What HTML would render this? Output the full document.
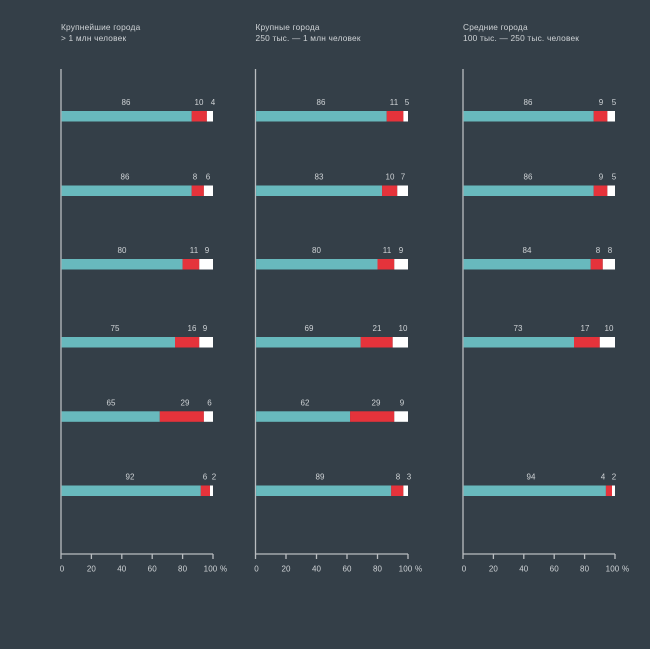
<!DOCTYPE html>
<html><head><meta charset="utf-8"><style>
html,body{margin:0;padding:0;background:#343f48;}
svg{display:block;}
text{font-family:"Liberation Sans","Noto Sans CJK SC",sans-serif;fill:#cfd3d6;font-size:8px;letter-spacing:0.1px;}
.t{font-size:8.3px;letter-spacing:0.2px;}
</style></head><body>
<svg width="650" height="649" viewBox="0 0 650 649" xmlns="http://www.w3.org/2000/svg">
<rect width="650" height="649" fill="#343f48"/>
<!-- titles -->
<text class="t" x="61" y="30">Крупнейшие города</text>
<text class="t" x="61" y="41">&gt; 1 млн человек</text>
<text class="t" x="255.5" y="30">Крупные города</text>
<text class="t" x="255.5" y="41">250 тыс. — 1 млн человек</text>
<text class="t" x="463" y="30">Средние города</text>
<text class="t" x="463" y="41">100 тыс. — 250 тыс. человек</text>

<g stroke="#b9bdc0" stroke-width="1.3" fill="none">
<!-- panel1 axes -->
<line x1="61" y1="69" x2="61" y2="559"/>
<line x1="61" y1="554" x2="213" y2="554"/>
<line x1="91.4" y1="554" x2="91.4" y2="559"/><line x1="121.8" y1="554" x2="121.8" y2="559"/><line x1="152.2" y1="554" x2="152.2" y2="559"/><line x1="182.6" y1="554" x2="182.6" y2="559"/><line x1="213" y1="554" x2="213" y2="559"/>
<!-- panel2 -->
<line x1="255.5" y1="69" x2="255.5" y2="559"/>
<line x1="255.5" y1="554" x2="408" y2="554"/>
<line x1="286" y1="554" x2="286" y2="559"/><line x1="316.5" y1="554" x2="316.5" y2="559"/><line x1="347" y1="554" x2="347" y2="559"/><line x1="377.5" y1="554" x2="377.5" y2="559"/><line x1="408" y1="554" x2="408" y2="559"/>
<!-- panel3 -->
<line x1="463" y1="69" x2="463" y2="559"/>
<line x1="463" y1="554" x2="615" y2="554"/>
<line x1="493.4" y1="554" x2="493.4" y2="559"/><line x1="523.8" y1="554" x2="523.8" y2="559"/><line x1="554.2" y1="554" x2="554.2" y2="559"/><line x1="584.6" y1="554" x2="584.6" y2="559"/><line x1="615" y1="554" x2="615" y2="559"/>
</g>

<!-- tick labels -->
<g text-anchor="middle">
<text x="62" y="571.5">0</text><text x="91.4" y="571.5">20</text><text x="121.8" y="571.5">40</text><text x="152.2" y="571.5">60</text><text x="182.6" y="571.5">80</text><text x="210.5" y="571.5">100</text>
<text x="256.5" y="571.5">0</text><text x="286" y="571.5">20</text><text x="316.5" y="571.5">40</text><text x="347" y="571.5">60</text><text x="377.5" y="571.5">80</text><text x="405.5" y="571.5">100</text>
<text x="464" y="571.5">0</text><text x="493.4" y="571.5">20</text><text x="523.8" y="571.5">40</text><text x="554.2" y="571.5">60</text><text x="584.6" y="571.5">80</text><text x="612.5" y="571.5">100</text>
</g>
<text x="220" y="571.5">%</text>
<text x="415" y="571.5">%</text>
<text x="622" y="571.5">%</text>

<!-- bars panel1 -->
<g>
<rect x="61.6" y="111" width="130.1" height="10.5" fill="#68b9bd"/><rect x="191.7" y="111" width="15.2" height="10.5" fill="#e5333b"/><rect x="206.9" y="111" width="6.1" height="10.5" fill="#ffffff"/>
<rect x="61.6" y="185.5" width="130.1" height="10.5" fill="#68b9bd"/><rect x="191.7" y="185.5" width="12.2" height="10.5" fill="#e5333b"/><rect x="203.9" y="185.5" width="9.1" height="10.5" fill="#ffffff"/>
<rect x="61.6" y="259" width="121" height="10.5" fill="#68b9bd"/><rect x="182.6" y="259" width="16.7" height="10.5" fill="#e5333b"/><rect x="199.3" y="259" width="13.7" height="10.5" fill="#ffffff"/>
<rect x="61.6" y="337" width="113.4" height="10.5" fill="#68b9bd"/><rect x="175" y="337" width="24.3" height="10.5" fill="#e5333b"/><rect x="199.3" y="337" width="13.7" height="10.5" fill="#ffffff"/>
<rect x="61.6" y="411.3" width="98.2" height="10.5" fill="#68b9bd"/><rect x="159.8" y="411.3" width="44.1" height="10.5" fill="#e5333b"/><rect x="203.9" y="411.3" width="9.1" height="10.5" fill="#ffffff"/>
<rect x="61.6" y="485.5" width="139.2" height="10.5" fill="#68b9bd"/><rect x="200.8" y="485.5" width="9.2" height="10.5" fill="#e5333b"/><rect x="210" y="485.5" width="3" height="10.5" fill="#ffffff"/>
</g>
<!-- bars panel2 -->
<g>
<rect x="256.1" y="111" width="130.6" height="10.5" fill="#68b9bd"/><rect x="386.7" y="111" width="16.7" height="10.5" fill="#e5333b"/><rect x="403.4" y="111" width="4.6" height="10.5" fill="#ffffff"/>
<rect x="256.1" y="185.5" width="126" height="10.5" fill="#68b9bd"/><rect x="382.1" y="185.5" width="15.2" height="10.5" fill="#e5333b"/><rect x="397.3" y="185.5" width="10.7" height="10.5" fill="#ffffff"/>
<rect x="256.1" y="259" width="121.4" height="10.5" fill="#68b9bd"/><rect x="377.5" y="259" width="16.8" height="10.5" fill="#e5333b"/><rect x="394.3" y="259" width="13.7" height="10.5" fill="#ffffff"/>
<rect x="256.1" y="337" width="104.6" height="10.5" fill="#68b9bd"/><rect x="360.7" y="337" width="32" height="10.5" fill="#e5333b"/><rect x="392.7" y="337" width="15.3" height="10.5" fill="#ffffff"/>
<rect x="256.1" y="411.3" width="94" height="10.5" fill="#68b9bd"/><rect x="350.1" y="411.3" width="44.2" height="10.5" fill="#e5333b"/><rect x="394.3" y="411.3" width="13.7" height="10.5" fill="#ffffff"/>
<rect x="256.1" y="485.5" width="135.1" height="10.5" fill="#68b9bd"/><rect x="391.2" y="485.5" width="12.2" height="10.5" fill="#e5333b"/><rect x="403.4" y="485.5" width="4.6" height="10.5" fill="#ffffff"/>
</g>
<!-- bars panel3 -->
<g>
<rect x="463.6" y="111" width="130.1" height="10.5" fill="#68b9bd"/><rect x="593.7" y="111" width="13.7" height="10.5" fill="#e5333b"/><rect x="607.4" y="111" width="7.6" height="10.5" fill="#ffffff"/>
<rect x="463.6" y="185.5" width="130.1" height="10.5" fill="#68b9bd"/><rect x="593.7" y="185.5" width="13.7" height="10.5" fill="#e5333b"/><rect x="607.4" y="185.5" width="7.6" height="10.5" fill="#ffffff"/>
<rect x="463.6" y="259" width="127.1" height="10.5" fill="#68b9bd"/><rect x="590.7" y="259" width="12.1" height="10.5" fill="#e5333b"/><rect x="602.8" y="259" width="12.2" height="10.5" fill="#ffffff"/>
<rect x="463.6" y="337" width="110.4" height="10.5" fill="#68b9bd"/><rect x="574" y="337" width="25.8" height="10.5" fill="#e5333b"/><rect x="599.8" y="337" width="15.2" height="10.5" fill="#ffffff"/>
<rect x="463.6" y="485.5" width="142.3" height="10.5" fill="#68b9bd"/><rect x="605.9" y="485.5" width="6.1" height="10.5" fill="#e5333b"/><rect x="612" y="485.5" width="3" height="10.5" fill="#ffffff"/>
</g>

<!-- value labels -->
<g text-anchor="middle">
<!-- panel1 -->
<text x="126" y="105">86</text><text x="199" y="105">10</text><text x="213" y="105">4</text>
<text x="125" y="179.5">86</text><text x="195" y="179.5">8</text><text x="208" y="179.5">6</text>
<text x="122" y="253">80</text><text x="194" y="253">11</text><text x="207" y="253">9</text>
<text x="115" y="331">75</text><text x="192" y="331">16</text><text x="205" y="331">9</text>
<text x="111" y="405.3">65</text><text x="185" y="405.3">29</text><text x="209.5" y="405.3">6</text>
<text x="130" y="479.5">92</text><text x="205" y="479.5">6</text><text x="214" y="479.5">2</text>
<!-- panel2 -->
<text x="321" y="105">86</text><text x="394" y="105">11</text><text x="407" y="105">5</text>
<text x="319" y="179.5">83</text><text x="390" y="179.5">10</text><text x="403" y="179.5">7</text>
<text x="316.5" y="253">80</text><text x="387" y="253">11</text><text x="401" y="253">9</text>
<text x="309" y="331">69</text><text x="377" y="331">21</text><text x="403" y="331">10</text>
<text x="305" y="405.3">62</text><text x="376" y="405.3">29</text><text x="402" y="405.3">9</text>
<text x="320" y="479.5">89</text><text x="398" y="479.5">8</text><text x="409" y="479.5">3</text>
<!-- panel3 -->
<text x="528" y="105">86</text><text x="601" y="105">9</text><text x="614" y="105">5</text>
<text x="528" y="179.5">86</text><text x="601" y="179.5">9</text><text x="614" y="179.5">5</text>
<text x="527" y="253">84</text><text x="598" y="253">8</text><text x="610" y="253">8</text>
<text x="518" y="331">73</text><text x="585" y="331">17</text><text x="609" y="331">10</text>
<text x="531" y="479.5">94</text><text x="603" y="479.5">4</text><text x="614" y="479.5">2</text>
</g>
</svg>
</body></html>
